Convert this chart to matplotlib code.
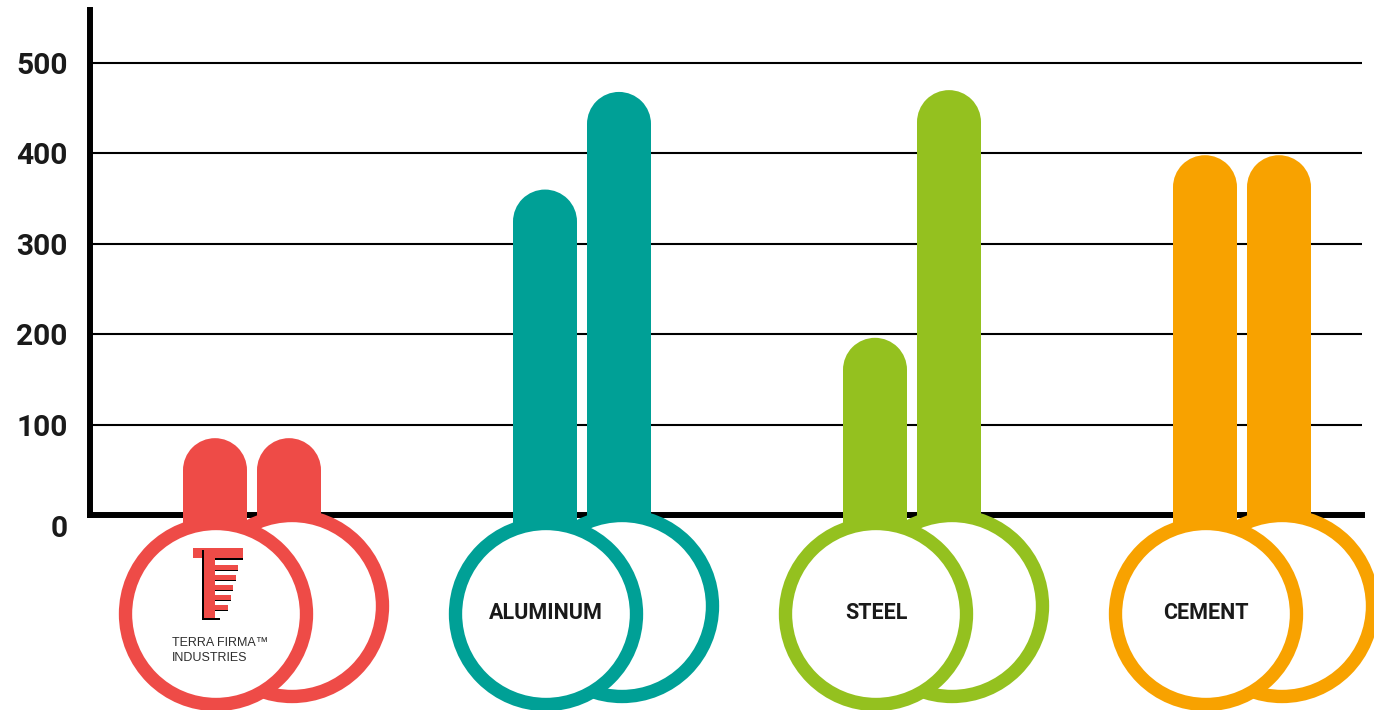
import numpy as np
import matplotlib
matplotlib.use('Agg')
import matplotlib.pyplot as plt
from matplotlib.patches import Ellipse, Rectangle

# data
categories = ['TERRA FIRMA', 'ALUMINUM', 'STEEL', 'CEMENT']
first_bar = [85, 360, 196, 398]
second_bar = [85, 468, 470, 398]
colors = ['#EE4B47', '#00A096', '#94C11F', '#F8A200']
yticks = [0, 100, 200, 300, 400, 500]

W, H = 1374, 710
x0, y0, ytop = 90, 515, 10        # pixel spots of axis corner / top
yscale = 500 / 452                 # data units per pixel in y

fig = plt.figure(figsize=(W / 100, H / 100), dpi=100)
ax = fig.add_axes([x0 / W, (H - y0) / H, (1362 - x0) / W, (y0 - ytop) / H])
ax.set_xlim(0, 1362 - x0)
ax.set_ylim(0, (y0 - ytop) * yscale)


def py(p):
    # pixel row -> data y
    return (y0 - p) * yscale


def px(p):
    return p - x0


centers = 162 + 330 * np.arange(len(categories))
bw = 64
off = 37
cap_h = bw * yscale
r = 90.5

for i, c in enumerate(colors):
    for vals, dx in ((first_bar, -off), (second_bar, off)):
        x = centers[i] + dx
        v = vals[i]
        ax.bar(x, v - cap_h / 2 + 12, bottom=-12, width=bw, color=c,
               zorder=3, clip_on=False, linewidth=0)
        ax.add_patch(Ellipse((x, v - cap_h / 2), bw, cap_h, color=c,
                             zorder=3, linewidth=0))
    # back ring (right) then front ring (left)
    ax.add_patch(Ellipse((centers[i] + off + 3, py(606)), 2 * r, 2 * r * yscale,
                         fc='white', ec=c, lw=9.6, zorder=4, clip_on=False))
    ax.add_patch(Ellipse((centers[i] - off + 1, py(614)), 2 * r, 2 * r * yscale,
                         fc='white', ec=c, lw=9.6, zorder=5, clip_on=False))
    if i > 0:
        ax.text(centers[i] - off + 1, py(613), categories[i], ha='center',
                va='center', fontsize=15.5, fontweight='bold', family='Roboto',
                color='#1a1a1a', zorder=6)

# terra firma logo
red = colors[0]


def rect(xa, ya, xb, yb, col):
    ax.add_patch(Rectangle((px(xa), py(yb)), xb - xa, (yb - ya) * yscale,
                           color=col, lw=0, zorder=6, clip_on=False))


rect(207, 557, 243, 560, 'black')
rect(193, 548, 243, 558, red)
rect(202, 550, 204, 620, 'black')
rect(204, 548, 215, 618, red)
rect(204, 618, 220, 620, 'black')
for k, xe in enumerate([238, 236, 233, 231, 228]):
    yy = 565 + 10 * k
    rect(215, yy + 4, xe, yy + 6, 'black')
    rect(215, yy, xe, yy + 5, red)
ax.text(px(172), py(643), 'TERRA FIRMA\u2122', ha='left', va='center',
        fontsize=9, family='Liberation Sans', color='#2e2e2e', zorder=6)
ax.text(px(172), py(658), 'INDUSTRIES', ha='left', va='center',
        fontsize=9, family='Liberation Sans', color='#2e2e2e', zorder=6)

# axes styling
for s in ['top', 'right']:
    ax.spines[s].set_visible(False)
ax.spines['left'].set_linewidth(4.3)
ax.spines['bottom'].set_linewidth(4.3)
ax.spines['bottom'].set_zorder(2)
ax.set_xticks([])
ax.set_yticks(yticks)
ax.set_yticklabels([str(t) for t in yticks])
ax.tick_params(axis='y', length=0, pad=16, labelsize=21.5)
for lab in ax.get_yticklabels():
    lab.set_fontfamily('Roboto')
    lab.set_fontweight('bold')
    lab.set_color('#1a1a1a')
ax.get_yticklabels()[0].set_va('top')
ax.yaxis.grid(True, color='black', lw=1.5)
ax.set_axisbelow(True)

fig.savefig('out.png', dpi=100)
